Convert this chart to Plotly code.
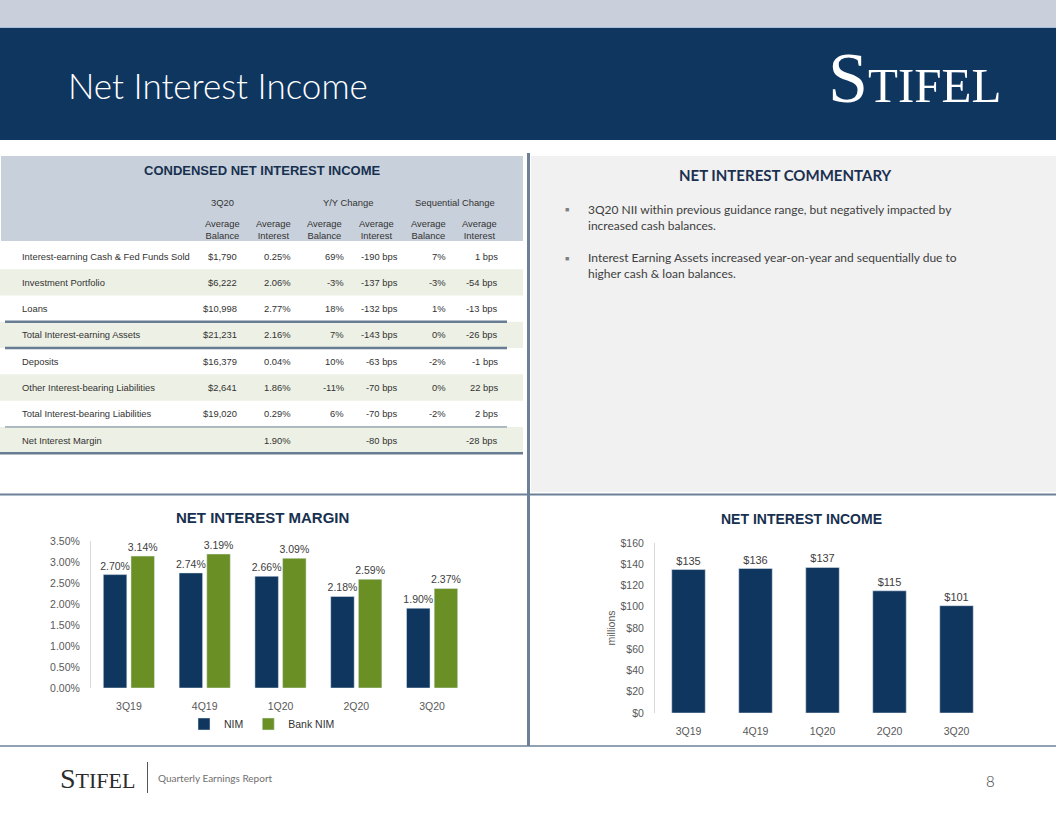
import plotly.graph_objects as go

# ---------------- data ----------------
quarters = ["3Q19", "4Q19", "1Q20", "2Q20", "3Q20"]
nim = [2.70, 2.74, 2.66, 2.18, 1.90]
bank_nim = [3.14, 3.19, 3.09, 2.59, 2.37]
nii = [135, 136, 137, 115, 101]

nim_tick_vals = [0, 0.5, 1.0, 1.5, 2.0, 2.5, 3.0, 3.5]
nim_tick_text = ["0.00%", "0.50%", "1.00%", "1.50%", "2.00%", "2.50%", "3.00%", "3.50%"]
nii_tick_vals = [0, 20, 40, 60, 80, 100, 120, 140, 160]
nii_tick_text = ["$0", "$20", "$40", "$60", "$80", "$100", "$120", "$140", "$160"]

row_labels = ["Interest-earning Cash & Fed Funds Sold", "Investment Portfolio", "Loans",
              "Total Interest-earning Assets", "Deposits", "Other Interest-bearing Liabilities",
              "Total Interest-bearing Liabilities", "Net Interest Margin"]
avg_balance = ["$1,790", "$6,222", "$10,998", "$21,231", "$16,379", "$2,641", "$19,020", ""]
avg_interest = ["0.25%", "2.06%", "2.77%", "2.16%", "0.04%", "1.86%", "0.29%", "1.90%"]
yy_balance = ["69%", "-3%", "18%", "7%", "10%", "-11%", "6%", ""]
yy_interest = ["-190 bps", "-137 bps", "-132 bps", "-143 bps", "-63 bps", "-70 bps", "-70 bps", "-80 bps"]
seq_balance = ["7%", "-3%", "1%", "0%", "-2%", "0%", "-2%", ""]
seq_interest = ["1 bps", "-54 bps", "-13 bps", "-26 bps", "-1 bps", "22 bps", "2 bps", "-28 bps"]
group_headers = ["3Q20", "Y/Y Change", "Sequential Change"]
col_headers = ["Average<br>Balance", "Average<br>Interest", "Average<br>Balance",
               "Average<br>Interest", "Average<br>Balance", "Average<br>Interest"]

commentary = [
    "3Q20 NII within previous guidance range, but negatively impacted by<br>increased cash balances.",
    "Interest Earning Assets increased year-on-year and sequentially due to<br>higher cash &amp; loan balances.",
]

# ---------------- layout helpers ----------------
W, H = 1056, 816
def X(px):
    return px / W
def Y(py):
    return 1 - py / H

NAVY = "#0f365e"
GREEN = "#6a8f24"
LINE = "#687c93"
TXT = "#333333"
TICK = "#595959"
SANS = "Liberation Sans, Arial, sans-serif"
HUM = "Lato, Open Sans, sans-serif"
SERIF = "Liberation Serif, Times New Roman, serif"

fig = go.Figure()

# ---------------- charts ----------------
lbl_font = dict(family=SANS, size=10.5, color="#404040")
fig.add_trace(go.Bar(x=quarters, y=nim, name="NIM", marker_color=NAVY,
                     text=nim, texttemplate="%{y:.2f}%", textposition="outside",
                     textfont=lbl_font, cliponaxis=False, constraintext="none",
                     xaxis="x", yaxis="y"))
fig.add_trace(go.Bar(x=quarters, y=bank_nim, name="Bank NIM", marker_color=GREEN,
                     text=bank_nim, texttemplate="%{y:.2f}%", textposition="outside",
                     textfont=lbl_font, cliponaxis=False, constraintext="none",
                     xaxis="x", yaxis="y"))
fig.add_trace(go.Bar(x=quarters, y=nii, name="NII", marker_color=NAVY, showlegend=False,
                     text=nii, texttemplate="$%{y}", textposition="outside",
                     textfont=dict(family=SANS, size=11, color="#404040"),
                     cliponaxis=False, constraintext="none",
                     width=0.5, xaxis="x2", yaxis="y2"))

axis_font = dict(family=SANS, size=10.5, color=TICK)
common_x = dict(showgrid=False, zeroline=False, showline=False, ticks="outside", ticklen=8,
                tickcolor="rgba(0,0,0,0)", tickfont=axis_font, automargin=False)
common_y = dict(showgrid=False, zeroline=False, showline=True, linecolor="#d9d9d9",
                linewidth=1, ticks="outside", ticklen=8, tickcolor="rgba(0,0,0,0)",
                tickfont=axis_font, automargin=False)
fig.update_layout(
    xaxis=dict(domain=[X(91), X(470)], anchor="y", **common_x),
    yaxis=dict(domain=[Y(688), Y(541)], anchor="x", range=[0, 3.5],
               tickvals=nim_tick_vals, ticktext=nim_tick_text, **common_y),
    xaxis2=dict(domain=[X(655), X(990)], anchor="y2", **common_x),
    yaxis2=dict(domain=[Y(713), Y(543)], anchor="x2", range=[0, 160],
                tickvals=nii_tick_vals, ticktext=nii_tick_text,
                title=dict(text="millions", font=dict(family=SANS, size=10.5, color=TICK),
                           standoff=2), **common_y),
    barmode="group", bargap=0.27, bargroupgap=0.15,
    legend=dict(orientation="h", x=X(262), xanchor="center", y=Y(724), yanchor="middle",
                font=dict(family=SANS, size=10.5, color=TXT), bgcolor="rgba(0,0,0,0)",
                itemwidth=30),
    width=W, height=H, autosize=False, margin=dict(l=0, r=0, t=0, b=0, pad=0, autoexpand=False),
    paper_bgcolor="white", plot_bgcolor="rgba(0,0,0,0)", showlegend=True,
)

shapes = []
def rect(x0, y0, x1, y1, color):
    shapes.append(dict(type="rect", xref="paper", yref="paper", x0=X(x0), x1=X(x1),
                       y0=Y(y1), y1=Y(y0), fillcolor=color, line=dict(width=0), layer="below"))
def hline(x0, x1, y, w, color=LINE):
    shapes.append(dict(type="line", xref="paper", yref="paper", x0=X(x0), x1=X(x1),
                       y0=Y(y), y1=Y(y), line=dict(color=color, width=w), layer="above"))
def vline(x, y0, y1, w, color=LINE):
    shapes.append(dict(type="line", xref="paper", yref="paper", x0=X(x), x1=X(x),
                       y0=Y(y0), y1=Y(y1), line=dict(color=color, width=w), layer="above"))

# header bands
rect(0, 0, W, 27, "#c9d0db")
rect(0, 27, W, 140, NAVY)
hline(0, W, 27.5, 1, "#a9bdd6")
# panels
rect(1, 156, 523, 241, "#c8d0db")
rect(531, 156, W, 492, "#f1f1f1")

annotations = []
def text(x, y, s, size, color=TXT, family=SANS, xanchor="center", yanchor="middle",
         weight="normal", align="center"):
    annotations.append(dict(xref="paper", yref="paper", x=X(x), y=Y(y), text=s,
                            showarrow=False, xanchor=xanchor, yanchor=yanchor, align=align,
                            font=dict(family=family, size=size, color=color, weight=weight)))

# table rows
row_y0, row_step = 256, 26.3
num_right = [239, 293, 346, 400, 448, 500]
head_ctr = [222, 273, 324, 376, 428, 479]
group_ctr = [222, 348, 455]
columns = [avg_balance, avg_interest, yy_balance, yy_interest, seq_balance, seq_interest]
for i, lab in enumerate(row_labels):
    cy = row_y0 + i * row_step
    if i % 2 == 1:
        rect(0, cy - row_step / 2, 523, cy + row_step / 2, "#edf0e4")
    text(20, cy, lab, 9.4, xanchor="left")
    for c, col in enumerate(columns):
        if col[i]:
            text(num_right[c], cy, col[i], 9.4, xanchor="right")
for g, gh in enumerate(group_headers):
    text(group_ctr[g], 202, gh, 9.4)
for c, ch in enumerate(col_headers):
    text(head_ctr[c], 229.5, ch, 9.4)

iea = row_y0 + 3 * row_step
nimr = row_y0 + 7 * row_step
hline(5, 507, iea - row_step / 2, 2.5)
hline(5, 507, iea + row_step / 2, 2.5)
hline(5, 507, nimr - row_step / 2, 1)
hline(0, 523, nimr + row_step / 2, 2.5)

# dividers
vline(528.5, 153, 746, 3, "#6c8098")
hline(0, W, 494.5, 2, "#6c8098")
hline(0, W, 746, 1.5, "#6c8098")
# footer divider
vline(147.5, 762, 793, 1, "#555555")

# titles
text(262, 170, "CONDENSED NET INTEREST INCOME", 13, color="#17304f", family=SANS, weight="bold")
text(785, 175, "NET INTEREST COMMENTARY", 15, color="#1b3050", family=HUM, weight="bold")
text(262, 517, "NET INTEREST MARGIN", 15, color="#17304f", family=SANS, weight="bold")
text(801, 519, "NET INTEREST INCOME", 14, color="#17304f", family=SANS, weight="bold")

# commentary
for k, line in enumerate(commentary):
    ty = 217.5 + k * 48
    text(567, ty - 7.5, "&#9632;", 7, color="#7f7f7f", family=SANS)
    text(586, ty, line, 12, color="#404040", family=HUM, xanchor="left", align="left")

# header title and logos
text(66, 85, "Net Interest Income", 35, color="white", family=HUM, xanchor="left", weight=300)
text(1003, 78, "<span style='font-size:72px'>S</span>TIFEL", 49, color="white",
     family=SERIF, xanchor="right")
text(58, 778, "<span style='font-size:28px'>S</span>TIFEL", 22, color="#2b2b2b",
     family=SERIF, xanchor="left")
text(156, 778, "Quarterly Earnings Report", 10, color="#6f6f6f", family=HUM, xanchor="left")
text(990, 781, "8", 15, color="#3a3a3a", family=HUM, weight=300)

fig.update_layout(shapes=shapes, annotations=annotations)
fig.write_html("out.html")
